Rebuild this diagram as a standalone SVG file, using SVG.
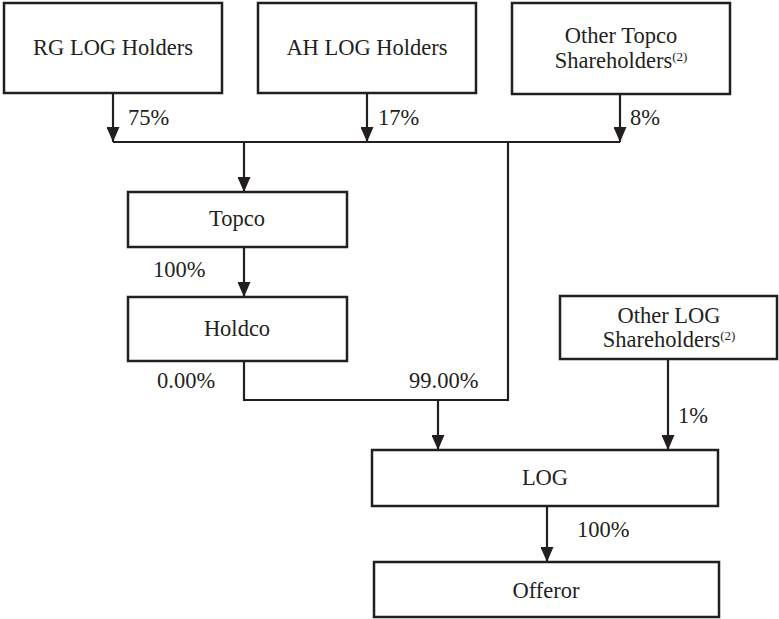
<svg xmlns="http://www.w3.org/2000/svg" width="779" height="619" viewBox="0 0 779 619">
<style>
.box{fill:#fff;stroke:#231f20;stroke-width:2.5}
.t{font-family:'Liberation Serif','Times New Roman',serif;font-size:22.5px;fill:#231f20}
.c{text-anchor:middle}
.sup{font-size:13px}
.ln{fill:none;stroke:#231f20;stroke-width:2.2}
</style>
<defs>
<marker id="ah" viewBox="0 0 15 13" refX="15" refY="6.5" markerWidth="15" markerHeight="13" markerUnits="userSpaceOnUse" orient="auto">
<path d="M0,0 L15,6.5 L0,13 z" fill="#231f20"/>
</marker>
</defs>
<rect width="779" height="619" fill="#fff"/>
<g id="connectors">
<path class="ln" d="M113,93 V142" marker-end="url(#ah)"/>
<path class="ln" d="M367,93 V142" marker-end="url(#ah)"/>
<path class="ln" d="M620,94 V142" marker-end="url(#ah)"/>
<path class="ln" d="M113,142 H620"/>
<path class="ln" d="M244,142 V192" marker-end="url(#ah)"/>
<path class="ln" d="M508,142 V400 H244 V361"/>
<path class="ln" d="M244,247 V297" marker-end="url(#ah)"/>
<path class="ln" d="M438,400 V450" marker-end="url(#ah)"/>
<path class="ln" d="M668,359 V450" marker-end="url(#ah)"/>
<path class="ln" d="M547,506 V562" marker-end="url(#ah)"/>
<text class="t" x="128" y="125">75%</text>
<text class="t" x="378" y="125">17%</text>
<text class="t" x="630" y="125">8%</text>
<text class="t" x="153" y="277">100%</text>
<text class="t" x="157" y="388">0.00%</text>
<text class="t" x="409" y="388">99.00%</text>
<text class="t" x="678" y="423">1%</text>
<text class="t" x="577" y="537">100%</text>
</g>
<g id="rg">
<rect class="box" x="4" y="3" width="218" height="90"/>
<text class="t c" x="113" y="55">RG LOG Holders</text>
</g>
<g id="ah-holders">
<rect class="box" x="258" y="3" width="218" height="90"/>
<text class="t c" x="367" y="55">AH LOG Holders</text>
</g>
<g id="other-topco">
<rect class="box" x="512" y="3" width="218" height="91"/>
<text class="t c" x="621" y="43">Other Topco</text>
<text class="t c" x="621" y="68">Shareholders<tspan class="sup" dy="-7">(2)</tspan></text>
</g>
<g id="topco">
<rect class="box" x="128" y="192" width="219" height="55"/>
<text class="t c" x="237" y="226">Topco</text>
</g>
<g id="holdco">
<rect class="box" x="128" y="297" width="219" height="64"/>
<text class="t c" x="237" y="336">Holdco</text>
</g>
<g id="other-log">
<rect class="box" x="560" y="296" width="217" height="63"/>
<text class="t c" x="669" y="323">Other LOG</text>
<text class="t c" x="669" y="347">Shareholders<tspan class="sup" dy="-7">(2)</tspan></text>
</g>
<g id="log">
<rect class="box" x="372" y="450" width="346" height="56"/>
<text class="t c" x="545" y="485">LOG</text>
</g>
<g id="offeror">
<rect class="box" x="374" y="562" width="345" height="55"/>
<text class="t c" x="546" y="598">Offeror</text>
</g>
</svg>
